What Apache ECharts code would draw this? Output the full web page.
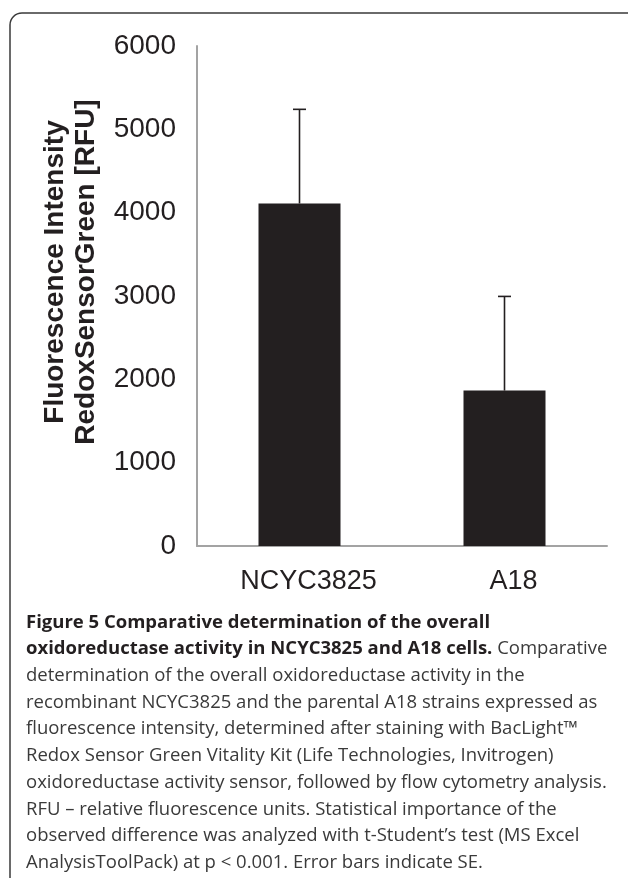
<!DOCTYPE html>
<html>
<head>
<meta charset="utf-8">
<title>Figure 5</title>
<script src="https://cdn.jsdelivr.net/npm/echarts@6/dist/echarts.min.js"></script>
<style>
  html, body { margin: 0; padding: 0; background: #fff; }
  #chart { width: 628px; height: 878px; }
</style>
</head>
<body>
<div id="chart"></div>
<script>
// data
const categories = ['NCYC3825', 'A18']
const meanRfu = [4110, 1865]
const seRfu = [1130, 1130]
const yMin = 0
const yMax = 6000
const yStep = 1000

const yTitleLines = ['Fluorescence Intensity', 'RedoxSensorGreen [RFU]']
const captionLines = [
  '{b|Figure 5 Comparative determination of the overall}',
  '{b|oxidoreductase activity in NCYC3825 and A18 cells.} Comparative',
  'determination of the overall oxidoreductase activity in the',
  'recombinant NCYC3825 and the parental A18 strains expressed as',
  'fluorescence intensity, determined after staining with BacLight™',
  'Redox Sensor Green Vitality Kit (Life Technologies, Invitrogen)',
  'oxidoreductase activity sensor, followed by flow cytometry analysis.',
  'RFU – relative fluorescence units. Statistical importance of the',
  'observed difference was analyzed with t-Student’s test (MS Excel',
  'AnalysisToolPack) at p < 0.001. Error bars indicate SE.'
]

const ink = '#231f20'
const axisGrey = '#a3a3a3'

// error bar rows: [category index, mean, mean + SE]
const errData = categories.map(function (c, i) {
  return [i, meanRfu[i], meanRfu[i] + seRfu[i]]
})

const myChart = echarts.init(document.getElementById('chart'))

const options = {
  backgroundColor: '#fff',
  animation: false,
  textStyle: { fontFamily: '"Liberation Sans", Arial, sans-serif' },
  grid: { left: 197, right: 21, top: 46, bottom: 332 },
  xAxis: {
    type: 'category',
    data: categories,
    axisLine: { lineStyle: { color: axisGrey, width: 2 } },
    axisTick: { show: false },
    axisLabel: {
      color: ink,
      fontSize: 27,
      margin: 22,
      padding: [0, 0, 0, 18]
    }
  },
  yAxis: {
    type: 'value',
    min: yMin,
    max: yMax,
    interval: yStep,
    axisLine: { show: true, lineStyle: { color: axisGrey, width: 2 } },
    axisTick: { show: false },
    splitLine: { show: false },
    axisLabel: {
      color: ink,
      fontSize: 28,
      margin: 21,
      formatter: function (v) { return String(v) }
    }
  },
  series: [
    {
      name: 'RFU',
      type: 'bar',
      data: meanRfu,
      barWidth: '40%',
      itemStyle: { color: ink }
    },
    {
      name: 'SE',
      type: 'custom',
      data: errData,
      z: 3,
      renderItem: function (params, api) {
        const base = api.coord([api.value(0), api.value(1)])
        const top = api.coord([api.value(0), api.value(2)])
        const cap = 6.5
        const st = { stroke: ink, lineWidth: 1.6 }
        return {
          type: 'group',
          children: [
            { type: 'line', shape: { x1: base[0], y1: base[1], x2: top[0], y2: top[1] }, style: st },
            { type: 'line', shape: { x1: top[0] - cap, y1: top[1], x2: top[0] + cap, y2: top[1] }, style: st }
          ]
        }
      }
    }
  ],
  graphic: [
    {
      // panel frame, open at the bottom and right
      type: 'rect',
      shape: { x: 10, y: 13, width: 640, height: 900, r: [12, 0, 0, 0] },
      style: { fill: 'none', stroke: '#3a3a3a', lineWidth: 1.5 },
      silent: true
    },
    {
      type: 'text',
      x: 71,
      y: 272,
      rotation: Math.PI / 2,
      style: {
        text: yTitleLines.join('\n'),
        font: 'bold 28px "Liberation Sans", Arial, sans-serif',
        fill: ink,
        align: 'center',
        verticalAlign: 'middle',
        lineHeight: 31
      }
    },
    {
      type: 'text',
      x: 26,
      y: 609,
      style: {
        text: captionLines.join('\n'),
        fontFamily: '"Open Sans", sans-serif',
        fontSize: 18.5,
        fill: '#3a3a3a',
        lineHeight: 26.7,
        verticalAlign: 'top',
        rich: {
          b: {
            fontFamily: '"Open Sans", sans-serif',
            fontSize: 18.5,
            fontWeight: 'bold',
            fill: ink,
            lineHeight: 26.7
          }
        }
      }
    }
  ]
}

myChart.setOption(options)
</script>
</body>
</html>
